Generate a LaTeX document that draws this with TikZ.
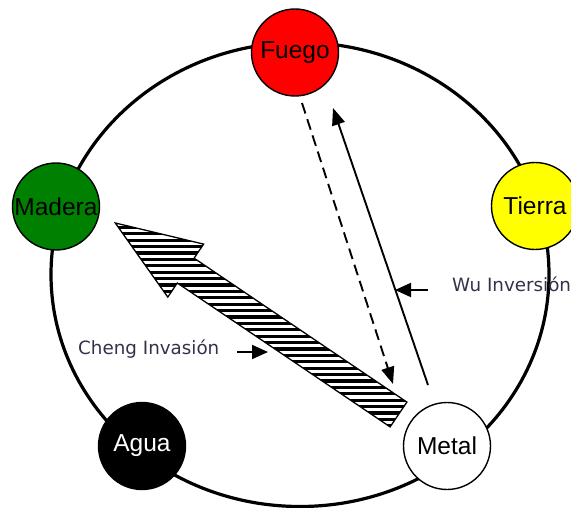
\documentclass[tikz,border=0pt]{standalone}
\usepackage{fontspec}
\setmainfont{Liberation Sans}
\newfontfamily\lblfont{DejaVu Sans}
\usetikzlibrary{arrows.meta}
\definecolor{fuegoc}{RGB}{255,0,0}
\definecolor{maderac}{RGB}{0,128,0}
\definecolor{tierrac}{RGB}{255,255,0}
\definecolor{lblc}{RGB}{50,50,75}
\begin{document}
\begin{tikzpicture}[x=1pt,y=-1pt,
  elem/.style={circle, draw=black, line width=1.4pt, minimum size=87pt, inner sep=0pt,
    font=\fontsize{24.5}{27}\selectfont},
  lbl/.style={font=\lblfont\fontsize{18.3}{21}\selectfont, text=lblc, inner sep=0pt},
  conn/.style={line width=1.9pt, -{Triangle[length=17pt,width=13pt]}},
  pointer/.style={line width=1.9pt, -{Triangle[length=16pt,width=14pt]}},
  dashline/.style={dash pattern=on 11pt off 6pt},
]
\useasboundingbox (0,0) rectangle (571,508);
% outer cycle
\draw[line width=3.2pt] (300,274.5) ellipse [x radius=249, y radius=232];
% elements
\node[elem, fill=fuegoc] (fuego) at (295,52.5) {Fuego};
\node[elem, fill=maderac] (madera) at (56,206.5) {Madera};
\node[elem, fill=tierrac] (tierra) at (535,206) {Tierra};
\node[elem, fill=black, text=white] (agua) at (142,446) {Agua};
\node[elem, fill=white] (metal) at (447,446) {Metal};
% hatched arrow (Cheng)
\coordinate (ht) at (115.3,223.0);
\coordinate (hbu) at (203.6,244.1);
\coordinate (hnu) at (194.1,258.2);
\coordinate (htu) at (406.9,402.1);
\coordinate (htl) at (390.1,426.9);
\coordinate (hnl) at (177.3,283.0);
\coordinate (hbl) at (167.8,297.1);
\begin{scope}
  \clip (ht) -- (hbu) -- (hnu) -- (htu) -- (htl) -- (hnl) -- (hbl) -- cycle;
  \foreach \yy in {221,227.4,...,440} \draw[line width=3.3pt] (100,\yy) -- (420,\yy);
\end{scope}
\draw[line width=1.3pt, line join=miter] (ht) -- (hbu) -- (hnu) -- (htu) -- (htl) -- (hnl) -- (hbl) -- cycle;
% Fuego <-> Metal arrows
\coordinate (dA) at (302,103);
\coordinate (dB) at (393,384);
\draw[conn, dashline] (dA) -- (dB);
\coordinate (sA) at (428,385);
\coordinate (sB) at (333,108);
\draw[conn] (sA) -- (sB);
% labels
\node[lbl, anchor=west] (cheng) at (78,349) {Cheng Invasión};
\node[lbl, anchor=west] (wu) at (452,284) {Wu Inversión};
\coordinate (cA) at (237,352);
\coordinate (cB) at (268,352);
\draw[pointer] (cA) -- (cB);
\coordinate (wA) at (428,290);
\coordinate (wB) at (395,290);
\draw[pointer] (wA) -- (wB);
\end{tikzpicture}
\end{document}
